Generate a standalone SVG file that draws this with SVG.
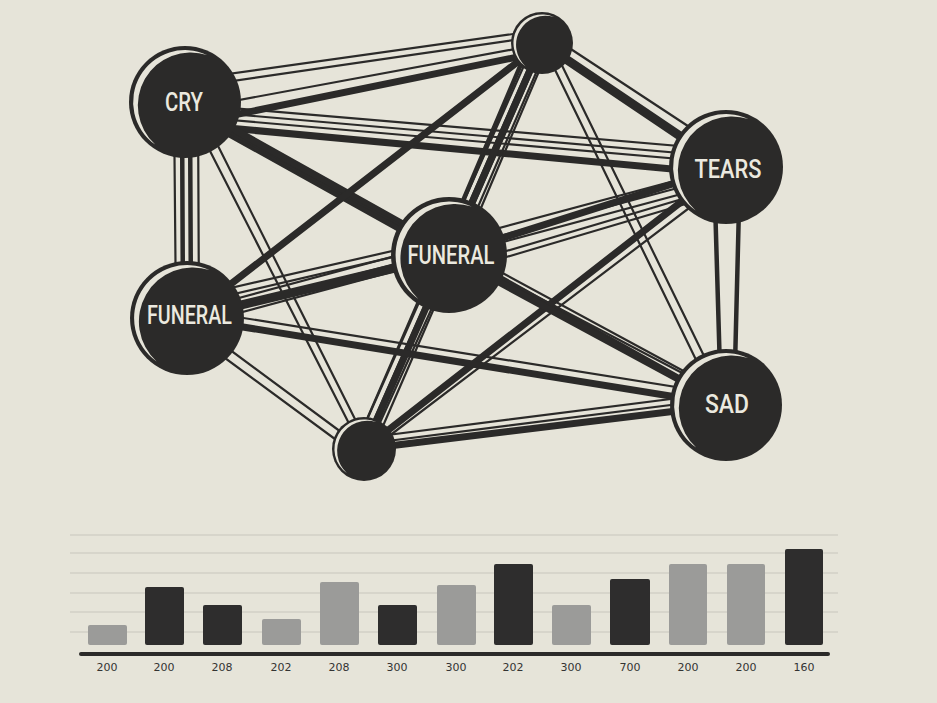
<svg xmlns="http://www.w3.org/2000/svg" xmlns:xlink="http://www.w3.org/1999/xlink" width="937" height="703" viewBox="0 0 937 703">
<style>
.bg{fill:#e6e4d9}
.e{stroke:#2b2a29;stroke-linecap:round;fill:none}
.t2{stroke-width:2.2}
.t4{stroke-width:4.5}
.t6{stroke-width:7}
.t8{stroke-width:9}
.disc{fill:#2b2a29}
.cres{fill:#e6e4d9}
.lbl{font-family:Roboto,"Liberation Sans",Arial,sans-serif;font-weight:500;font-size:25px;fill:#ebe9df;text-anchor:middle}
.grid{stroke:#d2d0c6;stroke-width:1.5}
.dark{fill:#2e2d2d}
.gray{fill:#9b9b99}
.ax{font-family:"DejaVu Sans",sans-serif;font-size:11px;fill:#333;text-anchor:middle}
</style>
<defs>
<path id="cr" d="M -29.8,42.6 A52,52 0 0 1 22,-47.1 A53,53 0 0 0 -29.8,42.6 Z"/>
</defs>
<rect class="bg" x="0" y="0" width="937" height="703"/>
<g id="connectors">
<!-- A-B -->
<line class="e t2" x1="185" y1="80" x2="542" y2="30"/>
<line class="e t2" x1="185" y1="88" x2="542" y2="36"/>
<line class="e t2" x1="185" y1="110" x2="542" y2="44"/>
<line class="e t6" x1="185" y1="125" x2="542" y2="52"/>
<!-- A-C -->
<line class="e t2" x1="185" y1="104" x2="726" y2="150"/>
<line class="e t2" x1="185" y1="110" x2="726" y2="157"/>
<line class="e t2" x1="185" y1="116" x2="726" y2="163"/>
<line class="e t6" x1="185" y1="124" x2="726" y2="174"/>
<!-- A-D -->
<line class="e t8" x1="185" y1="108" x2="449" y2="255"/>
<!-- A-E -->
<line class="e t2" x1="174" y1="102" x2="176" y2="318"/>
<line class="e t4" x1="182" y1="102" x2="183" y2="318"/>
<line class="e t4" x1="190" y1="102" x2="191" y2="318"/>
<line class="e t2" x1="198" y1="102" x2="199" y2="318"/>
<!-- A-F -->
<line class="e t6" x1="185" y1="102" x2="726" y2="405"/>
<line class="e t2" x1="185" y1="112" x2="726" y2="396"/>
<!-- A-G -->
<line class="e t2" x1="185" y1="102" x2="362" y2="449"/>
<line class="e t2" x1="196" y1="102" x2="370" y2="449"/>
<!-- B-C -->
<line class="e t8" x1="542" y1="43" x2="726" y2="167"/>
<line class="e t2" x1="548" y1="34" x2="735" y2="157"/>
<!-- B-D -->
<line class="e t6" x1="542" y1="43" x2="449" y2="255"/>
<line class="e t4" x1="530" y1="43" x2="440" y2="255"/>
<line class="e t2" x1="551" y1="43" x2="461" y2="255"/>
<!-- B-E -->
<line class="e t6" x1="542" y1="43" x2="187" y2="318"/>
<!-- B-F -->
<line class="e t2" x1="542" y1="43" x2="718" y2="405"/>
<line class="e t2" x1="551" y1="43" x2="728" y2="405"/>
<!-- B-G -->
<line class="e t6" x1="542" y1="43" x2="364" y2="449"/>
<line class="e t2" x1="534" y1="43" x2="354" y2="449"/>
<line class="e t2" x1="549" y1="43" x2="373" y2="449"/>
<!-- C-D -->
<line class="e t6" x1="726" y1="167" x2="449" y2="255"/>
<line class="e t2" x1="726" y1="186" x2="449" y2="268"/>
<line class="e t2" x1="726" y1="192" x2="449" y2="274"/>
<!-- C-E -->
<line class="e t2" x1="726" y1="167" x2="187" y2="312"/>
<line class="e t2" x1="726" y1="175" x2="187" y2="320"/>
<line class="e t2" x1="726" y1="182" x2="187" y2="327"/>
<!-- C-F -->
<line class="e t4" x1="714" y1="167" x2="721" y2="405"/>
<line class="e t4" x1="740" y1="167" x2="734" y2="405"/>
<!-- C-G -->
<line class="e t6" x1="726" y1="167" x2="364" y2="449"/>
<line class="e t2" x1="726" y1="180" x2="372" y2="449"/>
<!-- D-E -->
<line class="e t8" x1="449" y1="255" x2="187" y2="318"/>
<line class="e t2" x1="449" y1="238" x2="187" y2="298"/>
<line class="e t2" x1="449" y1="244" x2="187" y2="305"/>
<!-- D-F -->
<line class="e t6" x1="449" y1="255" x2="726" y2="405"/>
<line class="e t2" x1="449" y1="244" x2="726" y2="394"/>
<!-- D-G -->
<line class="e t2" x1="438" y1="255" x2="354" y2="449"/>
<line class="e t2" x1="447" y1="255" x2="361" y2="449"/>
<line class="e t2" x1="456" y1="255" x2="368" y2="449"/>
<!-- E-F -->
<line class="e t6" x1="187" y1="318" x2="726" y2="405"/>
<line class="e t2" x1="187" y1="309" x2="726" y2="395"/>
<!-- E-G -->
<line class="e t2" x1="187" y1="318" x2="364" y2="449"/>
<line class="e t2" x1="187" y1="330" x2="358" y2="456"/>
<!-- F-G -->
<line class="e t6" x1="726" y1="405" x2="364" y2="449"/>
<line class="e t2" x1="726" y1="392" x2="364" y2="438"/>
<line class="e t2" x1="726" y1="398" x2="364" y2="444"/>
</g>
<g id="node-cry">
<circle class="disc" cx="185" cy="102" r="56"/>
<use xlink:href="#cr" href="#cr" class="cres" transform="translate(185,102)"/>
<text class="lbl" x="184" y="111" textLength="38" lengthAdjust="spacingAndGlyphs">CRY</text>
</g>
<g id="node-top">
<circle class="disc" cx="542" cy="43" r="31"/>
<use xlink:href="#cr" href="#cr" class="cres" transform="translate(542,43) scale(0.55)"/>
</g>
<g id="node-tears">
<circle class="disc" cx="726" cy="167" r="57"/>
<use xlink:href="#cr" href="#cr" class="cres" transform="translate(726,167) scale(1.02)"/>
<text class="lbl" x="728" y="178" textLength="67" lengthAdjust="spacingAndGlyphs">TEARS</text>
</g>
<g id="node-funeral-center">
<circle class="disc" cx="449" cy="255" r="58"/>
<use xlink:href="#cr" href="#cr" class="cres" transform="translate(449,255) scale(1.03)"/>
<text class="lbl" x="451" y="264" textLength="87" lengthAdjust="spacingAndGlyphs">FUNERAL</text>
</g>
<g id="node-funeral-left">
<circle class="disc" cx="187" cy="318" r="57"/>
<use xlink:href="#cr" href="#cr" class="cres" transform="translate(187,318) scale(1.02)"/>
<text class="lbl" x="189.5" y="324" textLength="85" lengthAdjust="spacingAndGlyphs">FUNERAL</text>
</g>
<g id="node-sad">
<circle class="disc" cx="726" cy="405" r="56"/>
<use xlink:href="#cr" href="#cr" class="cres" transform="translate(726,405)"/>
<text class="lbl" x="727" y="413" textLength="44" lengthAdjust="spacingAndGlyphs">SAD</text>
</g>
<g id="node-bottom">
<circle class="disc" cx="364" cy="449" r="32"/>
<use xlink:href="#cr" href="#cr" class="cres" transform="translate(364,449) scale(0.57)"/>
</g>
<g id="chart">
<line class="grid" x1="70" y1="535" x2="838" y2="535"/>
<line class="grid" x1="70" y1="553" x2="838" y2="553"/>
<line class="grid" x1="70" y1="573" x2="838" y2="573"/>
<line class="grid" x1="70" y1="593" x2="838" y2="593"/>
<line class="grid" x1="70" y1="612" x2="838" y2="612"/>
<line class="grid" x1="70" y1="632" x2="838" y2="632"/>
<rect class="gray" x="88" y="625" width="39" height="20" rx="2"/>
<rect class="dark" x="145" y="587" width="39" height="58" rx="2"/>
<rect class="dark" x="203" y="605" width="39" height="40" rx="2"/>
<rect class="gray" x="262" y="619" width="39" height="26" rx="2"/>
<rect class="gray" x="320" y="582" width="39" height="63" rx="2"/>
<rect class="dark" x="378" y="605" width="39" height="40" rx="2"/>
<rect class="gray" x="437" y="585" width="39" height="60" rx="2"/>
<rect class="dark" x="494" y="564" width="39" height="81" rx="2"/>
<rect class="gray" x="552" y="605" width="39" height="40" rx="2"/>
<rect class="dark" x="610" y="579" width="40" height="66" rx="2"/>
<rect class="gray" x="669" y="564" width="38" height="81" rx="2"/>
<rect class="gray" x="727" y="564" width="38" height="81" rx="2"/>
<rect class="dark" x="785" y="549" width="38" height="96" rx="2"/>
<line x1="81" y1="654" x2="828" y2="654" stroke="#2b2a29" stroke-width="4" stroke-linecap="round"/>
<text class="ax" x="107" y="671">200</text>
<text class="ax" x="164" y="671">200</text>
<text class="ax" x="222" y="671">208</text>
<text class="ax" x="281" y="671">202</text>
<text class="ax" x="339" y="671">208</text>
<text class="ax" x="397" y="671">300</text>
<text class="ax" x="456" y="671">300</text>
<text class="ax" x="513" y="671">202</text>
<text class="ax" x="571" y="671">300</text>
<text class="ax" x="630" y="671">700</text>
<text class="ax" x="688" y="671">200</text>
<text class="ax" x="746" y="671">200</text>
<text class="ax" x="804" y="671">160</text>
</g>
</svg>
